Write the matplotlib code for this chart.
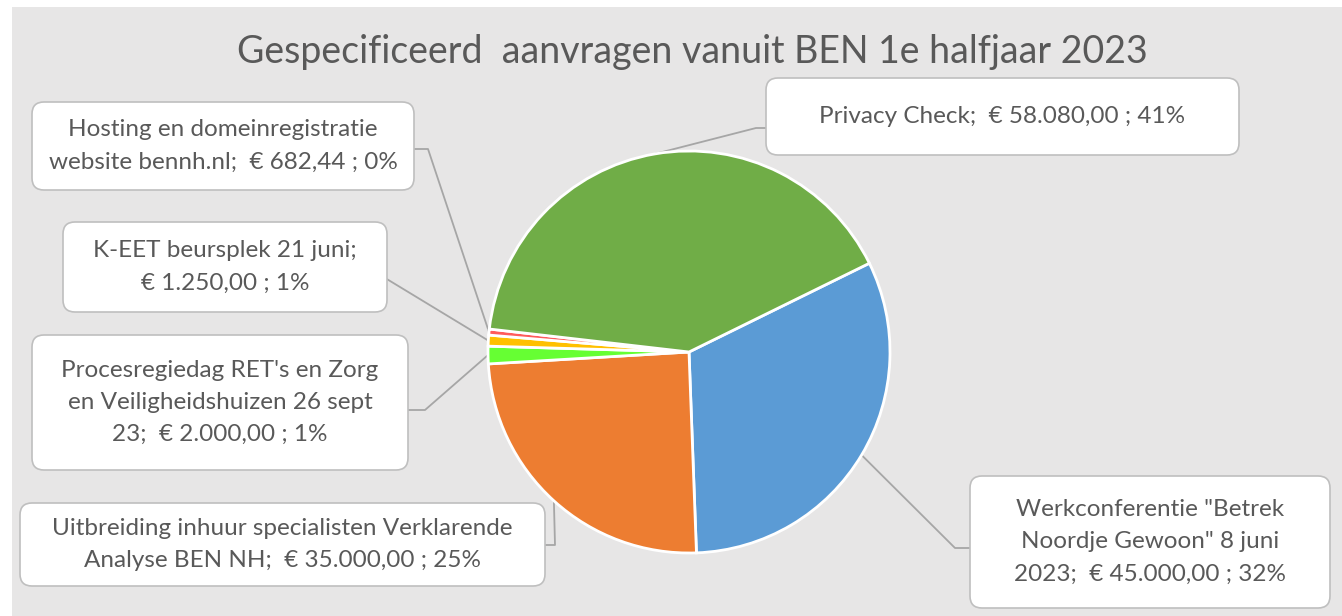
import numpy as np
import matplotlib
matplotlib.use("Agg")
import matplotlib.pyplot as plt
from matplotlib.patches import FancyBboxPatch, Rectangle

# ---- data ----
categories = [
    'Werkconferentie "Betrek Noordje Gewoon" 8 juni 2023',
    "Uitbreiding inhuur specialisten Verklarende Analyse BEN NH",
    "Procesregiedag RET's en Zorg en Veiligheidshuizen 26 sept 23",
    "K-EET beursplek 21 juni",
    "Hosting en domeinregistratie website bennh.nl",
    "Privacy Check",
]
values = [45000.00, 35000.00, 2000.00, 1250.00, 682.44, 58080.00]
label_texts = [
    'Werkconferentie "Betrek\nNoordje Gewoon" 8 juni\n2023;  € 45.000,00 ; 32%',
    "Uitbreiding inhuur specialisten Verklarende\nAnalyse BEN NH;  € 35.000,00 ; 25%",
    "Procesregiedag RET's en Zorg\nen Veiligheidshuizen 26 sept\n23;  € 2.000,00 ; 1%",
    "K-EET beursplek 21 juni;\n€ 1.250,00 ; 1%",
    "Hosting en domeinregistratie\nwebsite bennh.nl;  € 682,44 ; 0%",
    "Privacy Check;  € 58.080,00 ; 41%",
]
colors = ["#5B9BD5", "#ED7D31", "#66FF33", "#FFC000", "#FF5B5B", "#70AD47"]
title = "Gespecificeerd  aanvragen vanuit BEN 1e halfjaar 2023"

W, H = 1342, 616
plt.rcParams['font.family'] = ['Lato', 'DejaVu Sans']
fig = plt.figure(figsize=(W / 100, H / 100), dpi=100, facecolor="white")
ax = fig.add_axes([0, 0, 1, 1])

def Y(yp):
    return H - yp

# background
ax.add_patch(Rectangle((12, 0), W - 12, H - 7, facecolor="#E7E6E6", edgecolor="none", zorder=0))

cx, cy, r = 689, 352, 201
wedges, _ = ax.pie(values, colors=colors, startangle=26.2, counterclock=False,
                   center=(cx, Y(cy)), radius=r,
                   wedgeprops=dict(edgecolor="white", linewidth=2.0))
for w in wedges:
    w.set_zorder(2)

# boxes: (x0, y0, x1, y1) in pixel coords, plus leader path points from box side
boxes = [
    (970, 476, 1330, 608),
    (20, 503, 545, 586),
    (32, 335, 408, 470),
    (63, 222, 387, 312),
    (32, 102, 414, 190),
    (766, 78, 1239, 155),
]
leaders = [
    [(970, 548), (955, 548)],
    [(545, 545), (555, 545)],
    [(408, 410), (425, 410)],
    [(387, 267), (367, 267)],
    [(414, 149), (428, 149)],
    [(766, 128), (756, 128)],
]

for w, (x0, y0, x1, y1), txt, ld in zip(wedges, boxes, label_texts, leaders):
    mid = np.deg2rad((w.theta1 + w.theta2) / 2)
    px = cx + r * np.cos(mid)
    py = Y(cy) + r * np.sin(mid)
    xs = [p[0] for p in ld] + [px]
    ys = [Y(p[1]) for p in ld] + [py]
    ax.plot(xs, ys, color="#A6A6A6", lw=1.3, zorder=1.5, solid_capstyle="butt")
    ax.add_patch(FancyBboxPatch((x0, Y(y1)), x1 - x0, y1 - y0,
                                boxstyle="round,pad=0,rounding_size=12",
                                facecolor="white", edgecolor="#BFBFBF", lw=1.2, zorder=3))
    ax.text((x0 + x1) / 2, Y((y0 + y1) / 2), txt, ha="center", va="center",
            fontsize=17.5, color="#595959", linespacing=1.65, zorder=4)

ax.text(692, Y(52), title, ha="center", va="center", fontsize=27, color="#595959", zorder=4)

ax.set_xlim(0, W)
ax.set_ylim(0, H)
ax.set_aspect("equal")
ax.axis("off")
fig.savefig("out.png", dpi=100, facecolor="white")
